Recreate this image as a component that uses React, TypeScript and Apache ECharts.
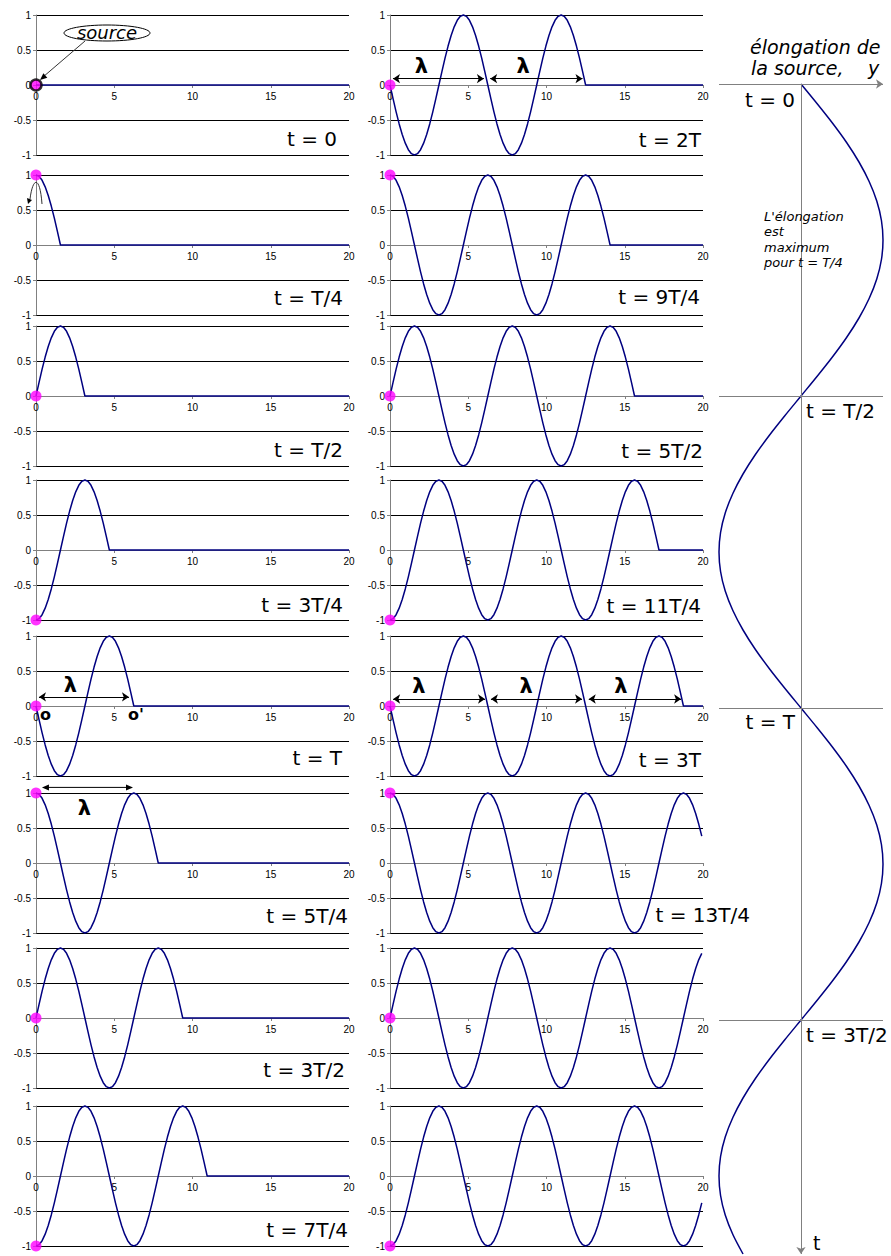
import React, { useEffect, useRef } from "react";
import * as echarts from "echarts";

// ---------------- data ----------------
const SAMPLES_PER_PERIOD = 32;
const WAVELENGTH = 6.25; // (front at 6.25 for t = T)
const X_MAX = 20;

const sourceElongation = [
  0, 0.195, 0.383, 0.556, 0.707, 0.831, 0.924, 0.981,
  1, 0.981, 0.924, 0.831, 0.707, 0.556, 0.383, 0.195,
  0, -0.195, -0.383, -0.556, -0.707, -0.831, -0.924, -0.981,
  -1, -0.981, -0.924, -0.831, -0.707, -0.556, -0.383, -0.195,
];

// time of each snapshot, in quarter periods
const panelQuarters = [0, 1, 2, 3, 4, 5, 6, 7, 8, 9, 10, 11, 12, 13, 14, 15];
const panelLabels = [
  "t = 0", "t = T/4", "t = T/2", "t = 3T/4", "t = T", "t = 5T/4", "t = 3T/2", "t = 7T/4",
  "t = 2T", "t = 9T/4", "t = 5T/2", "t = 11T/4", "t = 3T", "t = 13T/4", "", "",
];

// right panel: source elongation vs time (samples of T/32), up to 1.875 T
const sourceCurveSamples = 60;
const rightPanelTimes = [0, 0.5, 1, 1.5];
const rightPanelLabels = ["t = 0", "t = T/2", "t = T", "t = 3T/2"];

// λ annotations (panel index, x start, x end, y) and label positions (panel, x, y)
const lambdaArrows = [
  [4, 0.19, 5.94, 0.13],
  [5, 0.38, 6.2, 1.08],
  [8, 0.19, 6.0, 0.09],
  [8, 6.4, 12.3, 0.09],
  [12, 0.2, 6.07, 0.1],
  [12, 6.45, 12.27, 0.1],
  [12, 12.7, 18.6, 0.1],
];
const lambdaLabels = [
  [4, 2.2, 0.3],
  [5, 3.1, 0.78],
  [8, 2.0, 0.27],
  [8, 8.5, 0.27],
  [12, 1.85, 0.28],
  [12, 8.7, 0.28],
  [12, 14.75, 0.28],
];

// ---------------- layout ----------------
const COLUMN_LEFT = [36, 390];
const PLOT_WIDTH = 313;
const ROW_TOPS = [15, 175, 326, 480, 636, 793, 948, 1106];
const PLOT_HEIGHT = 140;
const LABEL_RIGHT = [337, 343, 343, 343, 342, 348, 345, 348, 701, 700, 703, 701, 701, 750, 0, 0];
const LABEL_Y = [139, 298, 450, 605, 758, 916, 1070, 1230, 140, 297, 451, 606, 760, 915, 0, 0];
const WAVE_COLOR = "#000080";

function panelData(q: number): number[][] {
  const step = WAVELENGTH / SAMPLES_PER_PERIOD;
  const front = (q * SAMPLES_PER_PERIOD) / 4;
  const lastIdx = Math.floor(X_MAX / step + 1e-9);
  const pts: number[][] = [];
  for (let j = 0; j <= Math.min(front, lastIdx); j++) {
    const n = (((front - j) % SAMPLES_PER_PERIOD) + SAMPLES_PER_PERIOD) % SAMPLES_PER_PERIOD;
    pts.push([j * step, sourceElongation[n]]);
  }
  if (front < lastIdx) pts.push([X_MAX, 0]);
  return pts;
}

function sourceValue(q: number): number {
  return sourceElongation[(q * SAMPLES_PER_PERIOD / 4) % SAMPLES_PER_PERIOD];
}

export default function App() {
  const ref = useRef<HTMLDivElement>(null);

  useEffect(() => {
    if (!ref.current) return;
    const chart = echarts.init(ref.current, undefined, { renderer: "svg" });

    const grids: any[] = [];
    const xAxes: any[] = [];
    const yAxes: any[] = [];
    const series: any[] = [];
    const graphics: any[] = [];

    panelQuarters.forEach((q, i) => {
      const col = i < 8 ? 0 : 1;
      const row = i % 8;
      grids.push({ left: COLUMN_LEFT[col], top: ROW_TOPS[row], width: PLOT_WIDTH, height: PLOT_HEIGHT });
      xAxes.push({
        type: "value", gridIndex: i, min: 0, max: X_MAX, interval: 5,
        position: "bottom", offset: -PLOT_HEIGHT / 2,
        axisLine: { show: true, onZero: false, lineStyle: { color: "#808080", width: 1 } },
        axisTick: { show: true, length: 3, lineStyle: { color: "#808080" } },
        axisLabel: { fontSize: 10, color: "#000", margin: 6, fontFamily: "Liberation Sans" },
        splitLine: { show: false },
      });
      yAxes.push({
        type: "value", gridIndex: i, min: -1, max: 1, interval: 0.5,
        axisLine: { show: true, onZero: false, lineStyle: { color: "#808080", width: 1 } },
        axisTick: { show: true, length: 3, lineStyle: { color: "#808080" } },
        axisLabel: { fontSize: 10, color: "#000", margin: 5, fontFamily: "Liberation Sans" },
        splitLine: { show: true, lineStyle: { color: "#000", width: 1 } },
      });

      const arrows = lambdaArrows.filter((a) => a[0] === i && Math.abs(a[3]) <= 1);
      const labels = lambdaLabels.filter((a) => a[0] === i);
      const s: any = {
        type: "line", xAxisIndex: i, yAxisIndex: i, data: panelData(q),
        showSymbol: false, clip: false,
        lineStyle: { color: WAVE_COLOR, width: 1.5 },
        z: 3,
      };
      if (arrows.length) {
        s.markLine = {
          silent: true, symbol: ["arrow", "arrow"], symbolSize: 7,
          lineStyle: { color: "#000", width: 1, type: "solid" },
          label: { show: false },
          data: arrows.map((a) => [{ coord: [a[1], a[3]] }, { coord: [a[2], a[3]] }]),
        };
      }
      if (labels.length) {
        s.markPoint = {
          silent: true, symbol: "circle", symbolSize: 1,
          itemStyle: { color: "rgba(0,0,0,0)" },
          label: {
            show: true, position: "inside", formatter: "λ", fontSize: 21, fontWeight: "bold",
            color: "#000", fontFamily: "DejaVu Sans",
          },
          data: labels.map((l) => ({ coord: [l[1], l[2]], value: 1 })),
        };
      }
      series.push(s);
      series.push({
        type: "scatter", xAxisIndex: i, yAxisIndex: i, data: [[0, sourceValue(q)]],
        symbolSize: 11,
        itemStyle: q === 0 ? { color: "#ff00ff", borderColor: "#000", borderWidth: 2.5 } : { color: "#ff00ff" },
        z: 5,
      });

      if (panelLabels[i]) {
        graphics.push({
          type: "text", z: 50,
          style: {
            text: panelLabels[i], x: LABEL_RIGHT[i], y: LABEL_Y[i],
            textAlign: "right", textVerticalAlign: "middle",
            font: '20px "DejaVu Sans"', fill: "#000",
          },
        });
      }
    });

    // ---- right panel: elongation of the source vs time ----
    const ri = panelQuarters.length;
    grids.push({ left: 719, top: 84, width: 164, height: 1170 });
    xAxes.push({ type: "value", gridIndex: ri, min: -1, max: 1, show: false });
    yAxes.push({ type: "value", gridIndex: ri, min: 0, max: sourceCurveSamples / SAMPLES_PER_PERIOD, inverse: true, show: false });
    const rightData: number[][] = [];
    for (let n = 0; n <= sourceCurveSamples; n++) {
      rightData.push([sourceElongation[n % SAMPLES_PER_PERIOD], n / SAMPLES_PER_PERIOD]);
    }
    const tEnd = sourceCurveSamples / SAMPLES_PER_PERIOD;
    series.push({
      type: "line", xAxisIndex: ri, yAxisIndex: ri, data: rightData,
      showSymbol: false, smooth: 0.3, clip: false,
      lineStyle: { color: WAVE_COLOR, width: 1.5 },
      z: 3,
      markLine: {
        silent: true, symbolSize: 7,
        lineStyle: { color: "#808080", width: 1, type: "solid" },
        label: { show: false },
        data: [
          ...rightPanelTimes.map((t, k) => [
            { coord: [-1, t], symbol: "none" },
            { coord: [1, t], symbol: k === 0 ? "arrow" : "none", itemStyle: { color: "#000" } },
          ]),
          [{ coord: [0, 0], symbol: "none" }, { coord: [0, tEnd], symbol: "arrow" }],
        ],
      },
    });

    // right panel texts
    const rpPos = [
      [795, 100, "right"],
      [806, 411, "left"],
      [795, 722, "right"],
      [806, 1035, "left"],
    ];
    rightPanelLabels.forEach((lab, k) => {
      graphics.push({
        type: "text", z: 50,
        style: {
          text: lab, x: rpPos[k][0], y: rpPos[k][1], textAlign: rpPos[k][2],
          textVerticalAlign: "middle", font: '20px "DejaVu Sans"', fill: "#000",
        },
      });
    });
    graphics.push(
      { type: "text", z: 50, style: { text: "élongation de", x: 750, y: 47, textVerticalAlign: "middle", font: 'italic 19px "DejaVu Sans"', fill: "#000" } },
      { type: "text", z: 50, style: { text: "la source,", x: 751, y: 68, textVerticalAlign: "middle", font: 'italic 19px "DejaVu Sans"', fill: "#000" } },
      { type: "text", z: 50, style: { text: "y", x: 868, y: 68, textVerticalAlign: "middle", font: 'italic 19px "DejaVu Sans"', fill: "#000" } },
      { type: "text", z: 50, style: { text: "t", x: 813, y: 1243, textVerticalAlign: "middle", font: '19px "DejaVu Sans"', fill: "#000" } },
      { type: "text", z: 50, style: { text: "L'élongation", x: 764, y: 216, textVerticalAlign: "middle", font: 'italic 13px "DejaVu Sans"', fill: "#000" } },
      { type: "text", z: 50, style: { text: "est", x: 764, y: 231, textVerticalAlign: "middle", font: 'italic 13px "DejaVu Sans"', fill: "#000" } },
      { type: "text", z: 50, style: { text: "maximum", x: 764, y: 247, textVerticalAlign: "middle", font: 'italic 13px "DejaVu Sans"', fill: "#000" } },
      { type: "text", z: 50, style: { text: "pour t = T/4", x: 764, y: 262, textVerticalAlign: "middle", font: 'italic 13px "DejaVu Sans"', fill: "#000" } },
      // "source" callout
      { type: "line", z: 40, shape: { x1: 85, y1: 41, x2: 43, y2: 77 }, style: { stroke: "#333", lineWidth: 1 } },
      { type: "polygon", z: 40, shape: { points: [[40, 80], [47.3, 77.8], [43.4, 73.2]] }, style: { fill: "#000" } },
      { type: "ellipse", z: 45, shape: { cx: 107, cy: 33, rx: 43, ry: 8 }, style: { fill: "#fff", stroke: "#000", lineWidth: 1 } },
      { type: "text", z: 50, style: { text: "source", x: 107, y: 32, textAlign: "center", textVerticalAlign: "middle", font: 'italic 18px "DejaVu Sans"', fill: "#000" } },
      // small curved arrow at t = T/4
      { type: "bezierCurve", z: 40, shape: { x1: 42, y1: 204, cpx1: 40, cpy1: 176, cpx2: 33, cpy2: 176, x2: 30, y2: 199 }, style: { stroke: "#333", lineWidth: 1, fill: null } },
      { type: "polygon", z: 40, shape: { points: [[28, 204], [27, 198], [32, 200]] }, style: { fill: "#000" } },
      // o and o'
      { type: "text", z: 50, style: { text: "o", x: 40, y: 714, textVerticalAlign: "middle", font: 'bold 16px "DejaVu Sans"', fill: "#000" } },
      { type: "text", z: 50, style: { text: "o'", x: 128, y: 714, textVerticalAlign: "middle", font: 'bold 16px "DejaVu Sans"', fill: "#000" } },
    );

    chart.setOption({
      animation: false,
      backgroundColor: "#fff",
      grid: grids,
      xAxis: xAxes,
      yAxis: yAxes,
      series,
      graphic: graphics,
    });

    // λ arrows that sit above the plot range: place them through the axes' own scale
    const extra: any[] = [];
    lambdaArrows.filter((a) => Math.abs(a[3]) > 1).forEach((a) => {
      const p1 = chart.convertToPixel({ gridIndex: a[0] }, [a[1], a[3]]) as number[];
      const p2 = chart.convertToPixel({ gridIndex: a[0] }, [a[2], a[3]]) as number[];
      if (!p1 || !p2) return;
      const y = p1[1];
      extra.push(
        { type: "line", z: 40, shape: { x1: p1[0] + 4, y1: y, x2: p2[0] - 4, y2: y }, style: { stroke: "#000", lineWidth: 1 } },
        { type: "polygon", z: 40, shape: { points: [[p1[0], y], [p1[0] + 7, y - 3], [p1[0] + 7, y + 3]] }, style: { fill: "#000" } },
        { type: "polygon", z: 40, shape: { points: [[p2[0], y], [p2[0] - 7, y - 3], [p2[0] - 7, y + 3]] }, style: { fill: "#000" } },
      );
    });
    if (extra.length) chart.setOption({ graphic: [...graphics, ...extra] });

    return () => chart.dispose();
  }, []);

  return (
    <div
      ref={ref}
      style={{ position: "absolute", left: 0, top: 0, width: 891, height: 1256, background: "#fff" }}
    />
  );
}
